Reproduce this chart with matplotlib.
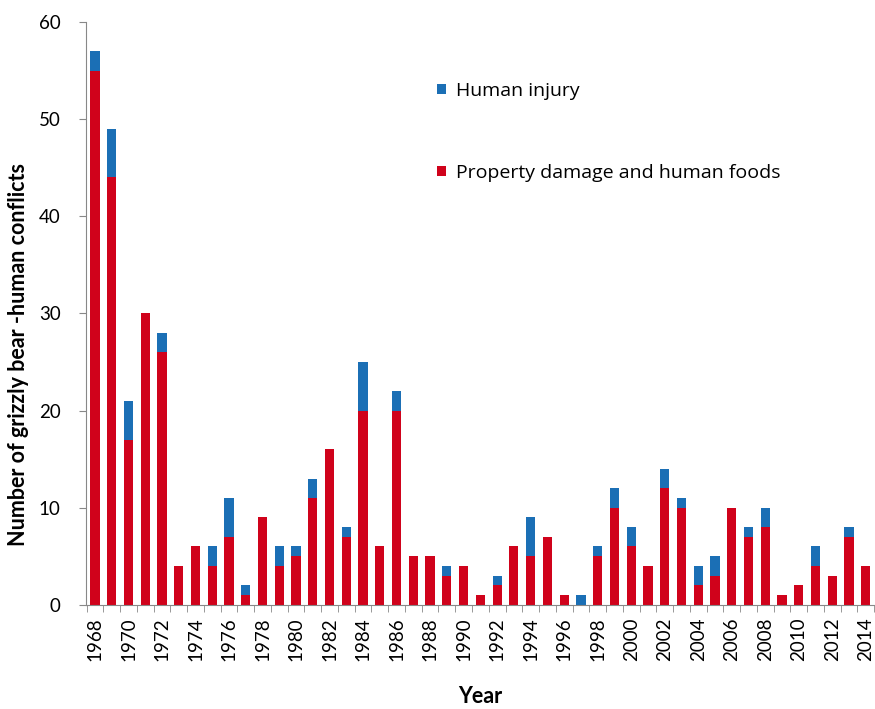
import matplotlib
matplotlib.use("Agg")
import matplotlib.pyplot as plt
import numpy as np

years = list(range(1968, 2015))
property_damage = [55, 44, 17, 30, 26, 4, 6, 4, 7, 1,
                   9, 4, 5, 11, 16, 7, 20, 6, 20, 5,
                   5, 3, 4, 1, 2, 6, 5, 7, 1, 0,
                   5, 10, 6, 4, 12, 10, 2, 3, 10, 7,
                   8, 1, 2, 4, 3, 7, 4]
human_injury = [2, 5, 4, 0, 2, 0, 0, 2, 4, 1,
                0, 2, 1, 2, 0, 1, 5, 0, 2, 0,
                0, 1, 0, 0, 1, 0, 4, 0, 0, 1,
                1, 2, 2, 0, 2, 1, 2, 2, 0, 1,
                2, 0, 0, 2, 0, 1, 0]
tick_years = [str(y) for y in years[::2]]

plt.rcParams['font.family'] = ['Lato', 'DejaVu Sans']

fig = plt.figure(figsize=(8.75, 7.09), dpi=100)
ax = fig.add_axes([0.098, 0.147, 0.902, 0.822])

red = '#D0021B'
blue = '#1B6FB5'
x = np.arange(len(years))
w = 0.55
ax.bar(x, property_damage, width=w, color=red, label='Property damage and human foods', zorder=2)
ax.bar(x, human_injury, width=w, bottom=property_damage, color=blue, label='Human injury', zorder=2)

ax.set_xlim(-0.55, len(years) - 0.45)
ax.set_ylim(0, 60)
ax.set_yticks(range(0, 61, 10))
ax.set_xticks(x[::2])
ax.set_xticklabels(tick_years, rotation=90, fontsize=13.5)
ax.set_xticks(np.arange(-0.5, len(years), 1), minor=True)
ax.tick_params(axis='x', which='major', length=0, pad=9)
ax.tick_params(axis='x', which='minor', length=5, color='#888888', direction='out')
ax.tick_params(axis='y', labelsize=13.5, length=5, color='#888888', direction='out', pad=13)

for s in ['top', 'right']:
    ax.spines[s].set_visible(False)
for s in ['left', 'bottom']:
    ax.spines[s].set_color('#888888')

ax.set_ylabel('Number of grizzly bear -human conflicts', fontsize=15.5, fontweight='bold')
ax.yaxis.set_label_coords(-0.085, 0.43)
ax.set_xlabel('Year', fontsize=15.5, fontweight='bold')
ax.xaxis.set_label_coords(0.5, -0.158)
ax.xaxis.label.set_va('center')
ax.yaxis.label.set_va('center')

handles, labels = ax.get_legend_handles_labels()
leg = ax.legend(handles[::-1], labels[::-1], loc='upper left', bbox_to_anchor=(0.4456, 0.897),
                borderaxespad=0, borderpad=0,
                frameon=False, prop={'family': ['Open Sans', 'DejaVu Sans'], 'size': 14},
                labelspacing=3.3, handlelength=0.45,
                handleheight=0.45, handletextpad=0.5)

fig.savefig('out.png', dpi=100)
